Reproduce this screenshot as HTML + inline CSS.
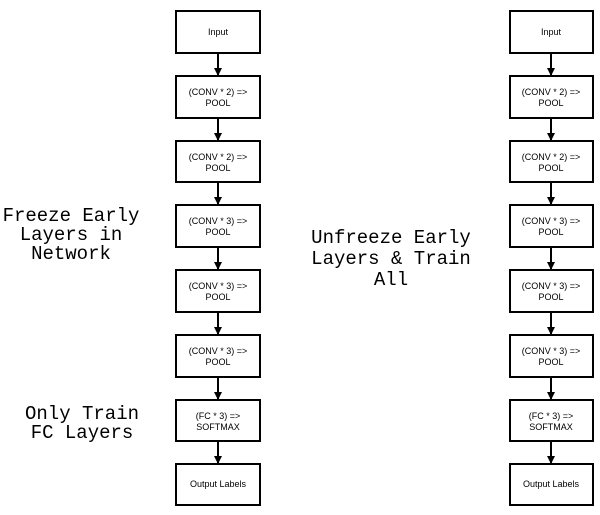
<!DOCTYPE html>
<html><head><style>body{margin:0;background:#fff}svg{display:block}</style></head><body>
<svg width="600" height="515" xmlns="http://www.w3.org/2000/svg">
<defs><marker id="a" markerWidth="8" markerHeight="8" refX="7" refY="4" orient="auto" markerUnits="userSpaceOnUse"><path d="M0,0 L8,4 L0,8 z" fill="#000"/></marker></defs>
<g fill="#fff" stroke="#000" stroke-width="2">
<rect x="176" y="11" width="84" height="42"/><rect x="176" y="76" width="84" height="42"/><rect x="176" y="141" width="84" height="41"/><rect x="176" y="205" width="84" height="42"/><rect x="176" y="270" width="84" height="42"/><rect x="176" y="335" width="84" height="42"/><rect x="176" y="400" width="84" height="41"/><rect x="176" y="464" width="84" height="41"/>
<rect x="510" y="11" width="83" height="42"/><rect x="510" y="76" width="83" height="42"/><rect x="510" y="141" width="83" height="41"/><rect x="510" y="205" width="83" height="42"/><rect x="510" y="270" width="83" height="42"/><rect x="510" y="335" width="83" height="42"/><rect x="510" y="400" width="83" height="41"/><rect x="510" y="464" width="83" height="41"/>
</g>
<g stroke="#000" stroke-width="2" marker-end="url(#a)">
<line x1="218" y1="53" x2="218" y2="75"/><line x1="218" y1="118" x2="218" y2="140"/><line x1="218" y1="182" x2="218" y2="204"/><line x1="218" y1="247" x2="218" y2="269"/><line x1="218" y1="312" x2="218" y2="334"/><line x1="218" y1="377" x2="218" y2="399"/><line x1="218" y1="441" x2="218" y2="463"/>
<line x1="551" y1="53" x2="551" y2="75"/><line x1="551" y1="118" x2="551" y2="140"/><line x1="551" y1="182" x2="551" y2="204"/><line x1="551" y1="247" x2="551" y2="269"/><line x1="551" y1="312" x2="551" y2="334"/><line x1="551" y1="377" x2="551" y2="399"/><line x1="551" y1="441" x2="551" y2="463"/>
</g>
<g font-family="Liberation Sans, sans-serif" font-size="9" text-anchor="middle" fill="#000">
<text x="218" y="35">Input</text>
<text x="218" y="95">(CONV * 2) =&gt;</text><text x="218" y="106">POOL</text>
<text x="218" y="160">(CONV * 2) =&gt;</text><text x="218" y="171">POOL</text>
<text x="218" y="224">(CONV * 3) =&gt;</text><text x="218" y="235">POOL</text>
<text x="218" y="289">(CONV * 3) =&gt;</text><text x="218" y="300">POOL</text>
<text x="218" y="354">(CONV * 3) =&gt;</text><text x="218" y="365">POOL</text>
<text x="218" y="419">(FC * 3) =&gt;</text><text x="218" y="430">SOFTMAX</text>
<text x="218" y="487">Output Labels</text>
<text x="551" y="35">Input</text>
<text x="551" y="95">(CONV * 2) =&gt;</text><text x="551" y="106">POOL</text>
<text x="551" y="160">(CONV * 2) =&gt;</text><text x="551" y="171">POOL</text>
<text x="551" y="224">(CONV * 3) =&gt;</text><text x="551" y="235">POOL</text>
<text x="551" y="289">(CONV * 3) =&gt;</text><text x="551" y="300">POOL</text>
<text x="551" y="354">(CONV * 3) =&gt;</text><text x="551" y="365">POOL</text>
<text x="551" y="419">(FC * 3) =&gt;</text><text x="551" y="430">SOFTMAX</text>
<text x="551" y="487">Output Labels</text>
</g>
<g font-family="Liberation Mono, monospace" font-size="19" text-anchor="middle" fill="#000">
<text x="71" y="221">Freeze Early</text><text x="71" y="240">Layers in</text><text x="71" y="259">Network</text>
<text x="82" y="419">Only Train</text><text x="82" y="438">FC Layers</text>
<text x="391" y="243">Unfreeze Early</text><text x="391" y="264">Layers &amp; Train</text><text x="391" y="285">All</text>
</g>
</svg>
</body></html>
